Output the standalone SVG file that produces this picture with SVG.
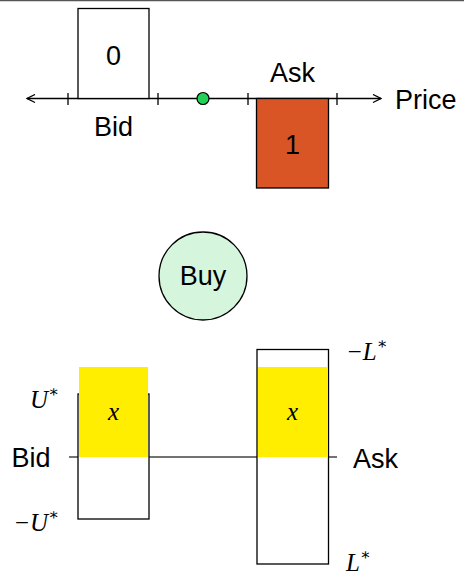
<svg xmlns="http://www.w3.org/2000/svg" width="464" height="575" viewBox="0 0 464 575">
<style>
.t{font-family:"Liberation Sans","DejaVu Sans",sans-serif;font-size:27px;fill:#000;text-anchor:middle;dominant-baseline:central}
.m{font-family:"Liberation Serif","DejaVu Serif",serif;font-style:italic;font-size:25px;fill:#000;text-anchor:middle;dominant-baseline:central}
.s{font-size:16px;font-style:normal}
.ln{stroke:#000;stroke-width:1.3;fill:none}
.box{stroke:#000;stroke-width:1.3;fill:#fff}
</style>
<defs>
<marker id="ah" viewBox="0 0 10 10" refX="9" refY="5" markerWidth="10" markerHeight="10" markerUnits="userSpaceOnUse" orient="auto-start-reverse">
<path d="M1,1 L9,5 L1,9" fill="none" stroke="#000" stroke-width="1.3"/>
</marker>
</defs>
<rect x="0" y="0" width="464" height="575" fill="#fff"/>
<line x1="0" y1="0.5" x2="464" y2="0.5" stroke="#555" stroke-width="1.5"/>
<g id="connectors">
<line class="ln" x1="27" y1="98.5" x2="381" y2="98.5" marker-start="url(#ah)" marker-end="url(#ah)"/>
<line class="ln" x1="68" y1="93" x2="68" y2="105"/>
<line class="ln" x1="158" y1="93" x2="158" y2="105"/>
<line class="ln" x1="248" y1="93" x2="248" y2="105"/>
<line class="ln" x1="337" y1="93" x2="337" y2="105"/>
<line x1="69" y1="457" x2="337" y2="457" stroke="#444" stroke-width="1.3"/>
</g>
<g id="bid0">
<rect class="box" x="78" y="8.5" width="71" height="90"/>
<text class="t" x="113.5" y="56" font-size="29">0</text>
<text class="t" x="113.5" y="127">Bid</text>
</g>
<g id="mid">
<circle cx="203" cy="98.5" r="6" fill="#22d155" stroke="#000" stroke-width="1.2"/>
</g>
<g id="ask1">
<rect x="256.5" y="98.5" width="72" height="89.5" fill="#d95525" stroke="#000" stroke-width="1.3"/>
<text class="t" x="292.5" y="145" font-size="29">1</text>
<text class="t" x="292.5" y="73">Ask</text>
</g>
<g id="price">
<text class="t" x="395" y="100" style="text-anchor:start" font-size="28">Price</text>
</g>
<g id="buy">
<circle cx="203" cy="276" r="44" fill="#d5f5dc" stroke="#000" stroke-width="1.3"/>
<text class="t" x="203" y="276">Buy</text>
</g>
<g id="bidbox">
<rect class="box" x="78" y="394" width="71" height="125"/>
<rect x="79" y="367" width="69" height="90" fill="#ffee00"/>
<text class="m" x="113.5" y="411">x</text>
<text class="m" x="59" y="399" style="text-anchor:end">U<tspan class="s" dy="-8">∗</tspan></text>
<text class="t" x="31" y="458">Bid</text>
<text class="m" x="59" y="522" style="text-anchor:end">−U<tspan class="s" dy="-8">∗</tspan></text>
</g>
<g id="askbox">
<rect class="box" x="257" y="349.5" width="71.5" height="214.5"/>
<rect x="258" y="367" width="69" height="90" fill="#ffee00"/>
<text class="m" x="292.5" y="411">x</text>
<text class="m" x="346" y="351" style="text-anchor:start">−L<tspan class="s" dy="-8">∗</tspan></text>
<text class="t" x="353" y="459" style="text-anchor:start">Ask</text>
<text class="m" x="346" y="562" style="text-anchor:start">L<tspan class="s" dy="-8">∗</tspan></text>
</g>
</svg>
